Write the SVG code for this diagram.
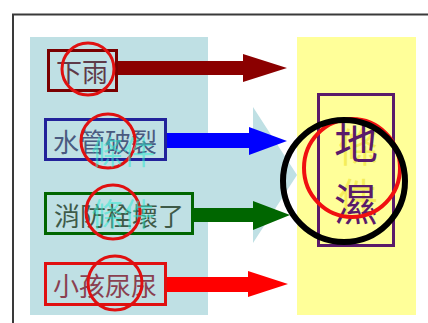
<svg xmlns="http://www.w3.org/2000/svg" width="428" height="323" viewBox="0 0 428 323">
<style>
.box{fill:none;stroke-width:3}
.lbl{font-family:"Noto Sans CJK TC","Noto Sans CJK SC",sans-serif;font-size:26px;dominant-baseline:central}
.ring{fill:none;stroke:#e01010;stroke-width:3}
.big{font-family:"Noto Sans CJK TC","Noto Sans CJK SC",sans-serif;dominant-baseline:central}
</style>
<rect width="428" height="323" fill="#ffffff"/>
<path d="M13 323 V14.5 H428" fill="none" stroke="#3a3a3a" stroke-width="2"/>
<g id="panel-causes">
<rect x="30" y="37" width="178" height="278" fill="#bfe0e4"/>
<polygon points="207,137 253,137 253,107 297,175 253,243 253,213 207,213" fill="#bfe0e4"/>
</g>
<g id="panel-result">
<rect x="297" y="37" width="119" height="278" fill="#ffff99"/>
<text class="big" x="358" y="145" font-size="40" fill="#f0e640" fill-opacity="0.7" text-anchor="middle">條</text>
<text class="big" x="358" y="195" font-size="40" fill="#f0e640" fill-opacity="0.7" text-anchor="middle">件</text>
</g>
<g id="connectors">
<polygon points="116,61 243,61 243,54 287,68 243,82 243,75 116,75" fill="#8b0000"/>
<polygon points="166,133 249,133 249,127 287,141 249,155 249,148 166,148" fill="#0000ff"/>
<polygon points="193,208 253,208 253,201 290,215 253,230 253,222 193,222" fill="#006600"/>
<polygon points="166,277 248,277 248,271 288,284 248,297 248,292 166,292" fill="#ff0000"/>
</g>
<g id="node-rain">
<rect class="box" x="48.5" y="50.5" width="68" height="40" stroke="#7a0000"/>
<text class="lbl" x="82" y="70" fill="#5e3a48" text-anchor="middle">下雨</text>
<circle class="ring" cx="88" cy="69" r="26"/>
</g>
<g id="node-pipe">
<rect class="box" x="45.5" y="119.5" width="120" height="40" stroke="#22229a"/>
<text class="lbl" x="105" y="140" fill="#4a5a80" text-anchor="middle">水管破裂</text>
<circle class="ring" cx="108" cy="141" r="27"/>
</g>
<g id="node-hydrant">
<rect class="box" x="45.5" y="193.5" width="147" height="40" stroke="#006600"/>
<text class="lbl" x="119" y="214" fill="#3e5a48" text-anchor="middle">消防栓壞了</text>
<circle class="ring" cx="113" cy="212" r="27"/>
</g>
<g id="node-pee">
<rect class="box" x="45.5" y="263.5" width="120" height="41" stroke="#e01010"/>
<text class="lbl" x="105" y="284" fill="#8a4050" text-anchor="middle">小孩尿尿</text>
<circle class="ring" cx="115" cy="283" r="27"/>
</g>
<g id="ghost-causes">
<text class="big" x="123" y="150" font-size="32" fill="#30e8d0" fill-opacity="0.55" text-anchor="middle">條件</text>
<text class="big" x="123" y="212" font-size="32" fill="#30e8d0" fill-opacity="0.55" text-anchor="middle">條件</text>
</g>
<g id="node-wet">
<rect x="318.5" y="94.5" width="75" height="151" fill="none" stroke="#5a1a6a" stroke-width="3"/>
<text class="big" x="356" y="140" font-size="44" fill="#5a1a6a" text-anchor="middle">地</text>
<text class="big" x="356" y="202" font-size="44" fill="#5a1a6a" text-anchor="middle">濕</text>
<ellipse cx="352" cy="168" rx="48" ry="49" fill="none" stroke="#f01010" stroke-width="4"/>
<circle cx="344" cy="181" r="61" fill="none" stroke="#000000" stroke-width="6"/>
</g>
</svg>
